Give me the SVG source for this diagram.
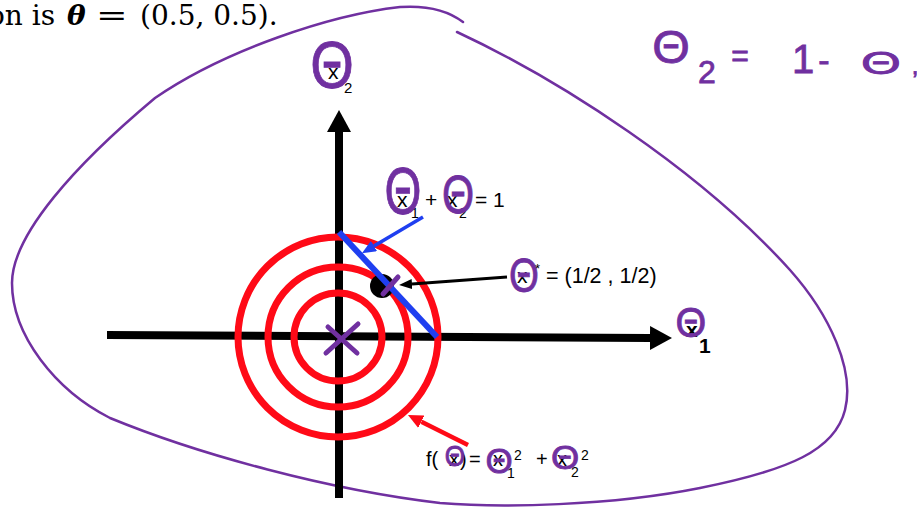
<svg xmlns="http://www.w3.org/2000/svg" width="917" height="508" viewBox="0 0 917 508">
<style>
.lbl{font-family:"Liberation Sans",Arial,sans-serif;fill:#000}
.hw{font-family:"Liberation Sans",Arial,sans-serif;fill:#7030a0;stroke:#7030a0;stroke-width:0.8;text-anchor:middle}
.top{font-family:"DejaVu Serif","Liberation Serif",serif;font-size:28px;fill:#000}
.ring{fill:none;stroke:#ff0a17;stroke-width:7}
.axis{stroke:#000;stroke-width:8;fill:none}
.pen{fill:none;stroke:#7030a0;stroke-linecap:round}
</style>
<defs>
<marker id="ahAxis" viewBox="0 0 22 24" refX="0" refY="12" markerWidth="22" markerHeight="24" markerUnits="userSpaceOnUse" orient="auto"><path d="M0,0 L22,12 L0,24 z" fill="#000"/></marker>
<marker id="ahBlack" viewBox="0 0 13 10" refX="0" refY="5" markerWidth="13" markerHeight="10" markerUnits="userSpaceOnUse" orient="auto"><path d="M0,0 L13,5 L0,10 z" fill="#000"/></marker>
<marker id="ahBlue" viewBox="0 0 14 12" refX="0" refY="6" markerWidth="14" markerHeight="12" markerUnits="userSpaceOnUse" orient="auto"><path d="M0,0 L14,6 L0,12 z" fill="#1f3ff0"/></marker>
<marker id="ahRed" viewBox="0 0 15 14" refX="0" refY="7" markerWidth="15" markerHeight="14" markerUnits="userSpaceOnUse" orient="auto"><path d="M0,0 L15,7 L0,14 z" fill="#ff0a17"/></marker>
</defs>
<rect width="917" height="508" fill="#fff"/>

<g id="caption">
<text class="top" x="-12" y="25">on is</text>
<text class="top" x="67" y="25" font-weight="bold" font-style="italic">θ</text>
<text class="top" font-size="34" transform="translate(96,25) scale(1.35,1)">=</text>
<text class="top" x="140" y="25">(0.5, 0.5).</text>
</g>

<g id="region">
<path class="pen" stroke-width="2.5" d="M457,32 C560,80 700,170 790,270 C830,315 855,370 845,410 C835,450 790,470 700,488 C610,506 500,508 440,503 C330,490 200,455 110,418 C55,390 12,335 12,283 C12,235 75,165 155,98 C225,50 330,15 400,7 C430,5 450,12 463,22"/>
</g>

<g id="handnote">
<text class="hw" font-size="46" transform="translate(671,63) scale(1.05,1)">Θ</text>
<text class="hw" font-size="32" x="707" y="83">2</text>
<text class="hw" font-size="30" x="740" y="66">=</text>
<text class="hw" font-size="40" x="803" y="73">1</text>
<text class="hw" font-size="34" x="824" y="72">-</text>
<text class="hw" font-size="32" transform="translate(881,74) scale(1.6,1)">Θ</text>
<text class="hw" font-size="24" x="915" y="74">,</text>
</g>

<g id="axes">
<line class="axis" x1="107" y1="335" x2="650" y2="338" marker-end="url(#ahAxis)"/>
<line class="axis" x1="339" y1="498" x2="339" y2="132" marker-end="url(#ahAxis)"/>
</g>

<g id="contours">
<circle class="ring" cx="338" cy="337" r="44"/>
<circle class="ring" cx="338" cy="337" r="70"/>
<circle class="ring" cx="338" cy="337" r="100"/>
</g>

<g id="optimum">
<circle cx="382" cy="286" r="12" fill="#000"/>
</g>

<g id="constraint">
<line x1="339" y1="232" x2="437" y2="337" stroke="#1f3ff0" stroke-width="6"/>
</g>

<g id="marks">
<line class="pen" stroke-width="5" x1="383" y1="294" x2="398" y2="277"/>
<line class="pen" stroke-width="5" x1="328" y1="327" x2="357" y2="353"/>
<line class="pen" stroke-width="5" x1="358" y1="324" x2="326" y2="353"/>
</g>

<g id="connectors">
<line x1="507" y1="277" x2="412" y2="284" stroke="#000" stroke-width="3" marker-end="url(#ahBlack)"/>
<line x1="423" y1="217" x2="374" y2="246" stroke="#1f3ff0" stroke-width="3.5" marker-end="url(#ahBlue)"/>
<line x1="468" y1="445" x2="421.4" y2="421.7" stroke="#ff0a17" stroke-width="4.5" marker-end="url(#ahRed)"/>
</g>

<g id="label-x2">
<text class="lbl" x="328" y="79" font-size="21">x</text>
<text class="lbl" x="344" y="93" font-size="15">2</text>
<text class="hw" font-size="66" transform="translate(332,88) scale(0.85,1)">Θ</text>
</g>

<g id="label-constraint">
<text class="lbl" x="397" y="207" font-size="21">x</text>
<text class="lbl" x="411" y="218" font-size="14">1</text>
<text class="lbl" x="425" y="207" font-size="21">+</text>
<text class="lbl" x="447" y="207" font-size="21">x</text>
<text class="lbl" x="459" y="218" font-size="14">2</text>
<text class="lbl" x="475" y="207" font-size="21">= 1</text>
<text class="hw" font-size="66" transform="translate(403,214) scale(0.72,1)">Θ</text>
<text class="hw" font-size="53" transform="translate(458,213) scale(0.78,1)">Θ</text>
</g>

<g id="label-opt">
<text class="lbl" x="517" y="283" font-size="21">x</text>
<text class="lbl" x="546" y="283" font-size="21.5">= (1/2 , 1/2)</text>
<text class="hw" font-size="48" transform="translate(524,292) scale(0.8,1)">Θ</text>
<text class="lbl" x="535" y="273" font-size="13">*</text>
</g>

<g id="label-x1">
<text class="lbl" x="686" y="337" font-size="21" font-weight="bold">x</text>
<text class="lbl" x="699" y="353" font-size="21" font-weight="bold">1</text>
<text class="hw" font-size="43" transform="translate(691,337) scale(0.92,1)">Θ</text>
</g>

<g id="label-f">
<text class="lbl" x="426" y="466" font-size="20">f(</text>
<text class="lbl" x="449" y="466" font-size="20">x</text>
<text class="lbl" x="460" y="466" font-size="20">)</text>
<text class="lbl" x="469" y="466" font-size="20">=</text>
<text class="lbl" x="493" y="466" font-size="20">x</text>
<text class="lbl" x="507" y="478" font-size="14">1</text>
<text class="lbl" x="514" y="460" font-size="14">2</text>
<text class="lbl" x="536" y="466" font-size="20">+</text>
<text class="lbl" x="557" y="466" font-size="20">x</text>
<text class="lbl" x="571" y="477" font-size="14">2</text>
<text class="lbl" x="581" y="460" font-size="14">2</text>
<text class="hw" font-size="29" transform="translate(455,466) scale(0.9,1)">Θ</text>
<text class="hw" font-size="35" transform="translate(499,473)">Θ</text>
<text class="hw" font-size="33" transform="translate(565,469) scale(1.1,1)">Θ</text>
</g>
</svg>
